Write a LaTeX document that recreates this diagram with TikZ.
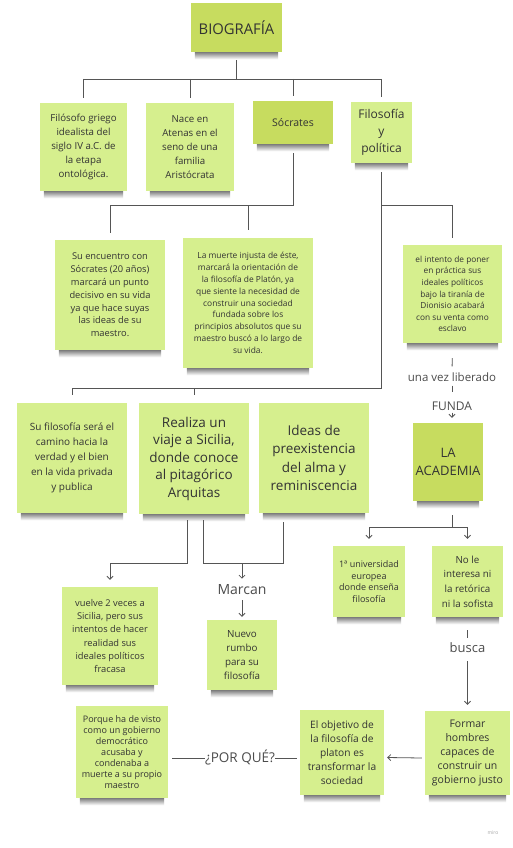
\documentclass[tikz,border=0pt]{standalone}
\usepackage{fontspec}
\setmainfont{Open Sans}
\usetikzlibrary{calc,arrows.meta,backgrounds}
\definecolor{notegreen}{HTML}{D6EF8E}
\definecolor{notedark}{HTML}{C7DC5F}
\definecolor{lncol}{HTML}{555555}
\definecolor{txtcol}{HTML}{333333}
\newcommand{\fs}[2]{\fontsize{#1}{#2}\selectfont}
\tikzset{
 note/.style={fill=notegreen, inner sep=0pt, align=center, text=txtcol},
 darknote/.style={note, fill=notedark},
 ln/.style={draw=lncol, line width=0.8pt},
 arr/.style={ln, -{Straight Barb[length=3pt,width=6pt]}},
 lbl/.style={inner sep=0pt, text=black!70, align=center},
}
\begin{document}
\begin{tikzpicture}[x=1pt,y=-1pt]
\useasboundingbox (0,0) rectangle (512,848);

% notes
\node[darknote, minimum width=91, minimum height=49, font=\fs{14.8}{18}] (bio) at (236.5,27.5) {BIOGRAFÍA};
\node[note, minimum width=87, minimum height=88, font=\fs{9.7}{14}] (n1) at (83.5,147) {Filósofo griego\\idealista del\\siglo IV a.C. de\\la etapa\\ontológica.};
\node[note, minimum width=88, minimum height=88, font=\fs{9.7}{14}] (n2) at (190,147) {Nace en\\Atenas en el\\seno de una\\familia\\Aristócrata};
\node[darknote, minimum width=80, minimum height=43, font=\fs{10.5}{13}] (soc) at (293,122.5) {Sócrates};
\node[note, minimum width=61, minimum height=61, font=\fs{12}{17}] (fyp) at (381.5,132.5) {Filosofía\\y\\política};
\node[note, minimum width=110, minimum height=110, font=\fs{9.3}{12.8}] (enc) at (110,295) {Su encuentro con\\Sócrates (20 años)\\marcará un punto\\decisivo en su vida\\ya que hace suyas\\las ideas de su\\maestro.};
\node[note, minimum width=130, minimum height=130, font=\fs{8.4}{11.8}] (mue) at (248,303) {La muerte injusta de éste,\\marcará la orientación de\\la filosofía de Platón, ya\\que siente la necesidad de\\construir una sociedad\\fundada sobre los\\principios absolutos que su\\maestro buscó a lo largo de\\su vida.};
\node[note, minimum width=99, minimum height=98, font=\fs{8.3}{11.6}] (int) at (452.5,294) {el intento de poner\\en práctica sus\\ideales políticos\\bajo la tiranía de\\Dionisio acabará\\con su venta como\\esclavo};
\node[note, minimum width=110, minimum height=110, font=\fs{10}{15}] (fil) at (72,458) {Su filosofía será el\\camino hacia la\\verdad y el bien\\en la vida privada\\y publica};
\node[note, minimum width=110, minimum height=111, font=\fs{13.5}{17.5}] (via) at (194,458.5) {Realiza un\\viaje a Sicilia,\\donde conoce\\al pitagórico\\Arquitas};
\node[note, minimum width=110, minimum height=110, font=\fs{13.5}{18.5}] (ide) at (314,458) {Ideas de\\preexistencia\\del alma y\\reminiscencia};
\node[darknote, minimum width=70, minimum height=78, font=\fs{13}{18}] (aca) at (448,462) {LA\\ACADEMIA};
\node[note, minimum width=96, minimum height=98, font=\fs{9.3}{13.2}] (vue) at (110,636) {vuelve 2 veces a\\Sicilia, pero sus\\intentos de hacer\\realidad sus\\ideales políticos\\fracasa};
\node[note, minimum width=70, minimum height=70, font=\fs{9.8}{13.7}] (nue) at (242,655) {Nuevo\\rumbo\\para su\\filosofía};
\node[note, minimum width=72, minimum height=71, font=\fs{9}{11.5}] (uni) at (369,581.5) {1ª universidad\\europea\\donde enseña\\filosofía};
\node[note, minimum width=71, minimum height=71, font=\fs{9.8}{14.7}] (nol) at (467.5,581.5) {No le\\interesa ni\\la retórica\\ni la sofista};
\node[note, minimum width=85, minimum height=84, font=\fs{10.5}{14}] (for) at (467.5,753) {Formar\\hombres\\capaces de\\construir un\\gobierno justo};
\node[note, minimum width=84, minimum height=85, font=\fs{10.2}{14}] (obj) at (342,752.5) {El objetivo de\\la filosofía de\\platon es\\transformar la\\sociedad};
\node[note, minimum width=92, minimum height=92, font=\fs{9}{11}] (por) at (122,752) {Porque ha de visto\\como un gobierno\\democrático\\acusaba y\\condenaba a\\muerte a su propio\\maestro};

% background and shadows
\begin{scope}[on background layer]
\fill[white] (0,0) rectangle (512,848);
\foreach \n in {bio,n1,n2,soc,fyp,enc,mue,int,fil,via,ide,aca,vue,nue,uni,nol,for,obj,por}{
  \shade[top color=black!50, bottom color=white] ($(\n.south west)+(4,0)$) rectangle ($(\n.south east)+(-4,7)$);
}
\end{scope}

% labels
\node[lbl, font=\fs{11.5}{14}] (lib) at (452,377) {una vez liberado};
\node[lbl, font=\fs{12}{14}] (fun) at (452,406) {FUNDA};
\node[lbl, font=\fs{14}{16}] (mar) at (242,590) {Marcan};
\node[lbl, font=\fs{13}{15}] (bus) at (467.5,648) {busca};
\node[lbl, font=\fs{13.5}{16}] (pq) at (240,758) {¿POR QUÉ?};
\node[lbl, font=\fs{5}{6}, text=black!35] (miro) at (493,833) {miro};

% top tree
\coordinate (tj) at (236.5,79);
\draw[ln] ($(bio.south)+(0,8)$) -- (tj);
\draw[ln] (n1.north |- tj) -- (fyp.north |- tj);
\foreach \n in {n1,n2,soc,fyp}{\draw[ln] (\n.north |- tj) -- ($(\n.north)+(0,-5)$);}

% socrates branch
\coordinate (sj) at (293,205);
\draw[ln] ($(soc.south)+(0,9)$) -- (sj) -- (enc.north |- sj) -- ($(enc.north)+(0,-7)$);
\draw[ln] (mue.north |- sj) -- ($(mue.north)+(0,-8)$);

% filosofia y politica branch
\coordinate (fj) at (381.5,388);
\draw[ln] ($(fyp.south)+(0,9)$) -- (fj) -- (fil.north |- fj) -- ($(fil.north)+(0,-8)$);
\draw[ln] (via.north |- fj) -- ($(via.north)+(0,-8)$);
\draw[ln] (fyp.south |- sj) -- (int.north |- sj) -- ($(int.north)+(0,-7)$);

% intento -> academia
\draw[ln, shorten <=15pt, shorten >=6pt] (int.south) -- (lib.north);
\draw[ln, shorten <=4pt, shorten >=9pt] (lib.south) -- (fun.north);
\draw[arr, shorten <=2pt, shorten >=5pt] (fun.south) -- (aca.north -| fun);

% academia -> uni, nol
\coordinate (aj) at (452,527);
\draw[ln] ($(aca.south -| aj)+(0,14)$) -- (aj);
\draw[ln] (uni.north |- aj) -- (nol.north |- aj);
\draw[arr] (uni.north |- aj) -- ($(uni.north)+(0,-7)$);
\draw[arr] (nol.north |- aj) -- ($(nol.north)+(0,-7)$);

% nol -> busca -> formar
\draw[ln, shorten <=13pt, shorten >=5pt] (nol.south) -- (bus.north);
\draw[arr, shorten <=8pt, shorten >=6pt] (bus.south) -- (for.north);

% formar -> objetivo -> por que -> porque
\draw[arr] ($(for.west)+(-3,5)$) -- ($(obj.east)+(3,5)$);
\draw[ln] ($(obj.west |- pq)+(-3,0)$) -- (pq.east);
\draw[ln] (pq.west) -- ($(por.east |- pq)+(4,0)$);

% viaje -> vuelve, marcan, ideas
\coordinate (vj) at (0,563);
\coordinate (ij) at (283,563);
\draw[arr] ($(via.south)+(-7,6)$) |- (vue.north |- vj) -- ($(vue.north)+(0,-7)$);
\draw[ln] ($(via.south)+(9,6)$) |- (ij) -- ($(ide.south -| ij)+(0,9)$);
\draw[arr, shorten >=6pt] (mar.north |- vj) -- (mar.north);
\draw[arr, shorten <=5pt, shorten >=3pt] (mar.south) -- (nue.north);
\end{tikzpicture}
\end{document}
